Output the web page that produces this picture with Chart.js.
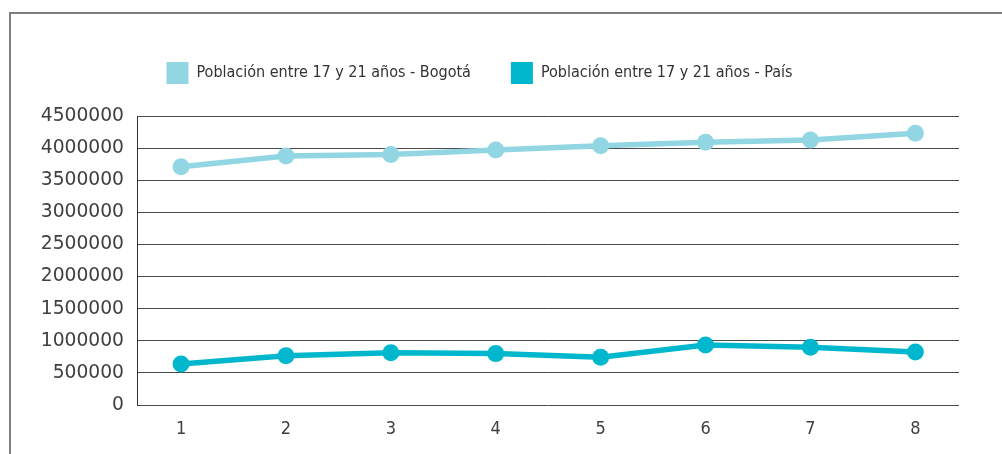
<!DOCTYPE html>
<html>
<head>
<meta charset="utf-8">
<script src="https://cdn.jsdelivr.net/npm/chart.js@4.4.0/dist/chart.umd.min.js"></script>
<style>
  body { margin: 0; background: #fff; }
  #wrap { position: relative; width: 1002px; height: 454px; overflow: hidden; }
  #frame { position: absolute; left: 9px; top: 12px; width: 1010px; height: 460px;
           border-left: 2px solid #7f7f7f; border-top: 2px solid #7f7f7f; }
  #chart { position: absolute; left: 0; top: 0; }
</style>
</head>
<body>
<div id="wrap">
  <div id="frame"></div>
  <canvas id="chart" width="1002" height="454"></canvas>
</div>
<script>
// x categories (years 1..8) and the two population series
const years = [1, 2, 3, 4, 5, 6, 7, 8];
const bogota = [3710000, 3877000, 3900000, 3971000, 4038000, 4090000, 4126000, 4230000];
const pais = [640000, 768000, 815000, 800000, 745000, 934000, 900000, 825000];
const yTicks = [0, 500000, 1000000, 1500000, 2000000, 2500000, 3000000, 3500000, 4000000, 4500000];

const lightBlue = '#93d6e3';
const darkBlue = '#00b7ce';

// make the legend take a fixed height so the plot starts at the right place
const legendHeight = {
    id: 'legendHeight',
    beforeInit(chart) {
        const fit = chart.legend.fit;
        chart.legend.fit = function () {
            fit.bind(chart.legend)();
            this.height = 94;
        };
    }
};

const ctx = document.getElementById('chart');
new Chart(ctx, {
    type: 'line',
    data: {
        datasets: [
            {
                label: 'Población entre 17 y 21 años - Bogotá',
                data: years.map((x, i) => ({ x, y: bogota[i] })),
                borderColor: lightBlue,
                backgroundColor: lightBlue,
                borderWidth: 5.5,
                pointRadius: 8.5,
                pointBorderWidth: 0,
                pointBackgroundColor: lightBlue,
                tension: 0
            },
            {
                label: 'Población entre 17 y 21 años - País',
                data: years.map((x, i) => ({ x, y: pais[i] })),
                borderColor: darkBlue,
                backgroundColor: darkBlue,
                borderWidth: 5.5,
                pointRadius: 8.5,
                pointBorderWidth: 0,
                pointBackgroundColor: darkBlue,
                tension: 0
            }
        ]
    },
    options: {
        responsive: false,
        animation: false,
        layout: { padding: { top: 22, left: 0, right: 43, bottom: 0 } },
        plugins: {
            legend: {
                position: 'top',
                align: 'center',
                labels: {
                    boxWidth: 22,
                    boxHeight: 22,
                    padding: 40,
                    color: '#333',
                    font: { family: '"Liberation Sans Narrow", "DejaVu Sans Condensed", sans-serif', size: 16 },
                    generateLabels: chart => Chart.defaults.plugins.legend.labels.generateLabels(chart)
                        .map(l => ({ ...l, lineWidth: 0 }))
                }
            },
            tooltip: { enabled: false }
        },
        scales: {
            x: {
                type: 'linear',
                min: 0.58,
                max: 8.416,
                afterBuildTicks: s => { s.ticks = years.map(v => ({ value: v })); },
                afterFit: s => { s.height = 49; },
                grid: { display: false, drawTicks: false },
                border: { display: false },
                ticks: {
                    padding: 14,
                    color: '#404040',
                    font: { family: '"DejaVu Sans Condensed", sans-serif', size: 18 }
                }
            },
            y: {
                min: 0,
                max: 4500000,
                afterBuildTicks: s => { s.ticks = yTicks.map(v => ({ value: v })); },
                afterFit: s => { s.width = 137; },
                grid: { color: '#4a4a4a', lineWidth: 1, drawTicks: false },
                border: { display: true, color: '#333', width: 1 },
                ticks: {
                    padding: 13,
                    color: '#404040',
                    font: { family: '"DejaVu Sans", sans-serif', size: 18.7 },
                    callback: v => String(v)
                }
            }
        }
    },
    plugins: [legendHeight]
});
</script>
</body>
</html>
